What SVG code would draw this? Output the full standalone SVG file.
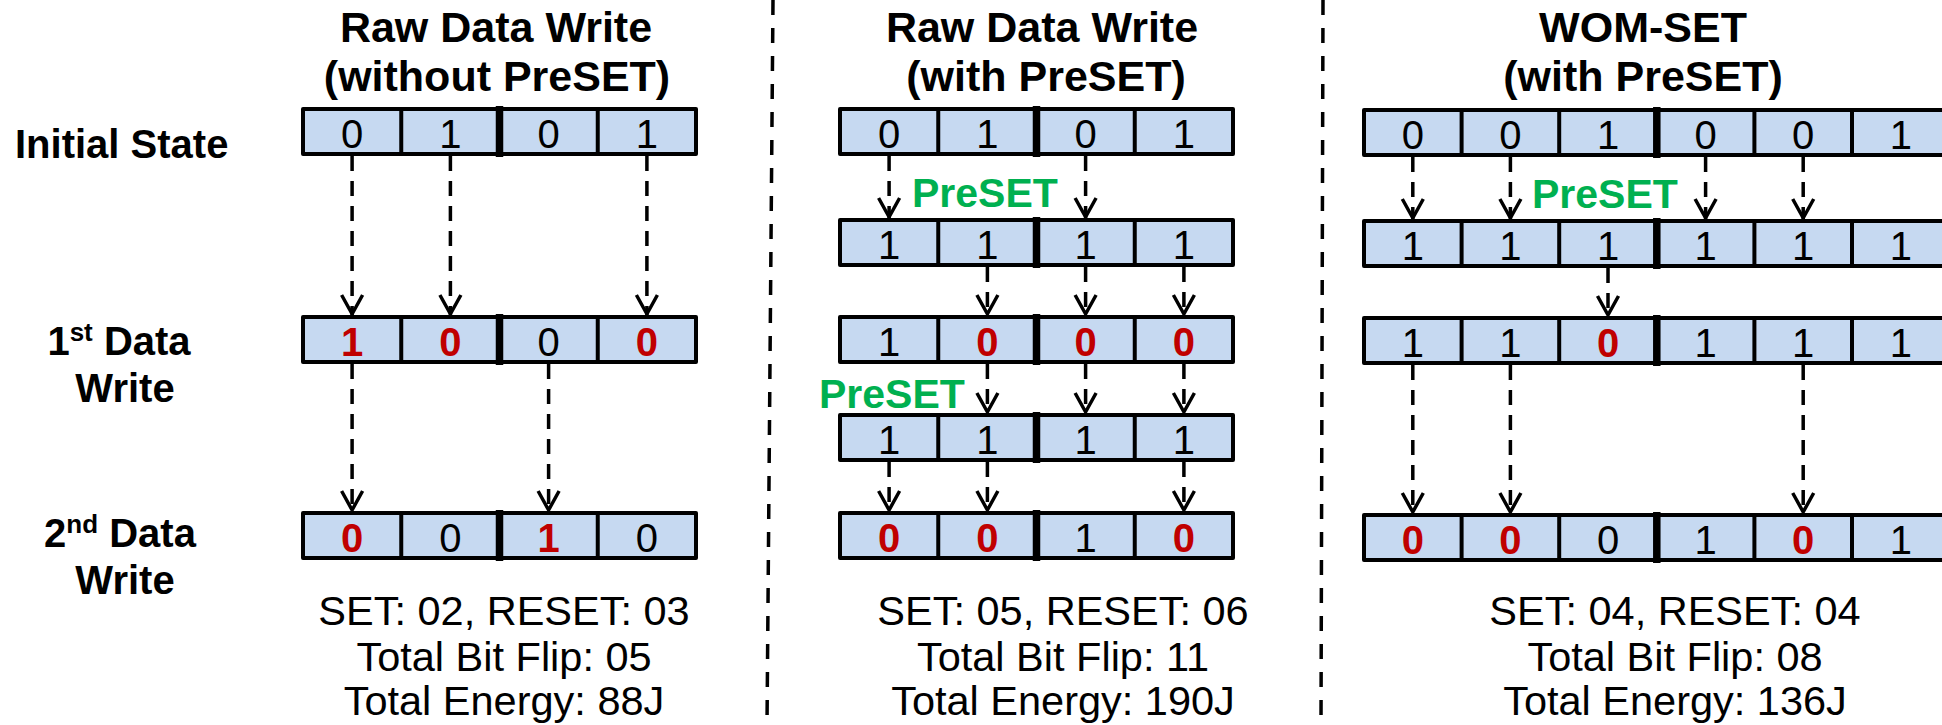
<svg xmlns="http://www.w3.org/2000/svg" width="1942" height="725" viewBox="0 0 1942 725">
  <defs>
    <style>
      .reg { fill: #C6D9F1; stroke: #000; stroke-width: 4; stroke-linejoin: round; }
      .sep { stroke: #000; stroke-width: 4; }
      .mid { stroke: #000; stroke-width: 7.5; }
      .bit { font-family: "Liberation Sans", Arial, sans-serif; font-size: 40px; text-anchor: middle; fill: #000; }
      .flip { fill: #C00000; font-weight: bold; }
      .title { font-family: "Liberation Sans", Arial, sans-serif; font-size: 43px; font-weight: bold; text-anchor: middle; fill: #000; }
      .label { font-family: "Liberation Sans", Arial, sans-serif; font-size: 40px; font-weight: bold; fill: #000; }
      .stat { font-family: "Liberation Sans", Arial, sans-serif; font-size: 41.5px; text-anchor: middle; fill: #000; }
      .preset { font-family: "Liberation Sans", Arial, sans-serif; font-size: 41px; font-weight: bold; fill: #00B050; }
      .conn { fill: none; stroke: #000; stroke-width: 3.5; stroke-dasharray: 15 10; marker-end: url(#arr); }
      .divider { stroke: #000; stroke-width: 3.5; stroke-dasharray: 15 13; }
    </style>
    <marker id="arr" markerUnits="userSpaceOnUse" viewBox="-22 -13 28 26" markerWidth="28" markerHeight="26" refX="3" refY="0" orient="auto">
      <path d="M -19 -10.5 L 0 0 L -19 10.5" fill="none" stroke="#000" stroke-width="3.5" stroke-dasharray="none"/>
    </marker>
  </defs>

  <rect width="1942" height="725" fill="#fff"/>

  <!-- panel separators -->
  <g id="separators">
    <line class="divider" x1="773" y1="0" x2="767" y2="725"/>
    <line class="divider" x1="1323" y1="0" x2="1321" y2="725"/>
  </g>

  <!-- row labels -->
  <g id="row-labels">
    <text class="label" x="15" y="158">Initial State</text>
    <text class="label" x="119" y="355" text-anchor="middle">1<tspan font-size="26" dy="-14">st</tspan><tspan dy="14"> Data</tspan></text>
    <text class="label" x="125" y="402" text-anchor="middle">Write</text>
    <text class="label" x="120" y="547" text-anchor="middle">2<tspan font-size="26" dy="-14">nd</tspan><tspan dy="14"> Data</tspan></text>
    <text class="label" x="125" y="594" text-anchor="middle">Write</text>
  </g>

  <!-- panel titles -->
  <g id="titles">
    <text class="title" x="496" y="42">Raw Data Write</text>
    <text class="title" x="497" y="91">(without PreSET)</text>
    <text class="title" x="1042" y="42">Raw Data Write</text>
    <text class="title" x="1046" y="91">(with PreSET)</text>
    <text class="title" x="1643" y="42">WOM-SET</text>
    <text class="title" x="1643" y="91">(with PreSET)</text>
  </g>

  <!-- panel 1: raw write without PreSET -->
  <g id="p1-initial">
    <rect class="reg" x="303" y="109" width="393" height="45"/>
    <line class="sep" x1="401.25" y1="109" x2="401.25" y2="154"/>
    <line class="sep" x1="597.75" y1="109" x2="597.75" y2="154"/>
    <line class="mid" x1="499.5" y1="106" x2="499.5" y2="157"/>
    <text class="bit" x="352.1" y="147.5">0</text>
    <text class="bit" x="450.4" y="147.5">1</text>
    <text class="bit" x="548.6" y="147.5">0</text>
    <text class="bit" x="646.9" y="147.5">1</text>
  </g>
  <g id="p1-write1">
    <rect class="reg" x="303" y="317" width="393" height="45"/>
    <line class="sep" x1="401.25" y1="317" x2="401.25" y2="362"/>
    <line class="sep" x1="597.75" y1="317" x2="597.75" y2="362"/>
    <line class="mid" x1="499.5" y1="314" x2="499.5" y2="365"/>
    <text class="bit flip" x="352.1" y="355.5">1</text>
    <text class="bit flip" x="450.4" y="355.5">0</text>
    <text class="bit" x="548.6" y="355.5">0</text>
    <text class="bit flip" x="646.9" y="355.5">0</text>
  </g>
  <g id="p1-write2">
    <rect class="reg" x="303" y="513" width="393" height="45"/>
    <line class="sep" x1="401.25" y1="513" x2="401.25" y2="558"/>
    <line class="sep" x1="597.75" y1="513" x2="597.75" y2="558"/>
    <line class="mid" x1="499.5" y1="510" x2="499.5" y2="561"/>
    <text class="bit flip" x="352.1" y="551.5">0</text>
    <text class="bit" x="450.4" y="551.5">0</text>
    <text class="bit flip" x="548.6" y="551.5">1</text>
    <text class="bit" x="646.9" y="551.5">0</text>
  </g>
  <g id="p1-stats">
    <text class="stat" x="504" y="625">SET: 02, RESET: 03</text>
    <text class="stat" x="504" y="671">Total Bit Flip: 05</text>
    <text class="stat" x="504" y="715">Total Energy: 88J</text>
  </g>

  <!-- panel 2: raw write with PreSET -->
  <g id="p2-initial">
    <rect class="reg" x="840" y="109" width="393" height="45"/>
    <line class="sep" x1="938.25" y1="109" x2="938.25" y2="154"/>
    <line class="sep" x1="1134.75" y1="109" x2="1134.75" y2="154"/>
    <line class="mid" x1="1036.5" y1="106" x2="1036.5" y2="157"/>
    <text class="bit" x="889.1" y="147.5">0</text>
    <text class="bit" x="987.4" y="147.5">1</text>
    <text class="bit" x="1085.6" y="147.5">0</text>
    <text class="bit" x="1183.9" y="147.5">1</text>
  </g>
  <g id="p2-preset1">
    <rect class="reg" x="840" y="220" width="393" height="45"/>
    <line class="sep" x1="938.25" y1="220" x2="938.25" y2="265"/>
    <line class="sep" x1="1134.75" y1="220" x2="1134.75" y2="265"/>
    <line class="mid" x1="1036.5" y1="217" x2="1036.5" y2="268"/>
    <text class="bit" x="889.1" y="258.5">1</text>
    <text class="bit" x="987.4" y="258.5">1</text>
    <text class="bit" x="1085.6" y="258.5">1</text>
    <text class="bit" x="1183.9" y="258.5">1</text>
  </g>
  <g id="p2-write1">
    <rect class="reg" x="840" y="317" width="393" height="45"/>
    <line class="sep" x1="938.25" y1="317" x2="938.25" y2="362"/>
    <line class="sep" x1="1134.75" y1="317" x2="1134.75" y2="362"/>
    <line class="mid" x1="1036.5" y1="314" x2="1036.5" y2="365"/>
    <text class="bit" x="889.1" y="355.5">1</text>
    <text class="bit flip" x="987.4" y="355.5">0</text>
    <text class="bit flip" x="1085.6" y="355.5">0</text>
    <text class="bit flip" x="1183.9" y="355.5">0</text>
  </g>
  <g id="p2-preset2">
    <rect class="reg" x="840" y="415" width="393" height="45"/>
    <line class="sep" x1="938.25" y1="415" x2="938.25" y2="460"/>
    <line class="sep" x1="1134.75" y1="415" x2="1134.75" y2="460"/>
    <line class="mid" x1="1036.5" y1="412" x2="1036.5" y2="463"/>
    <text class="bit" x="889.1" y="453.5">1</text>
    <text class="bit" x="987.4" y="453.5">1</text>
    <text class="bit" x="1085.6" y="453.5">1</text>
    <text class="bit" x="1183.9" y="453.5">1</text>
  </g>
  <g id="p2-write2">
    <rect class="reg" x="840" y="513" width="393" height="45"/>
    <line class="sep" x1="938.25" y1="513" x2="938.25" y2="558"/>
    <line class="sep" x1="1134.75" y1="513" x2="1134.75" y2="558"/>
    <line class="mid" x1="1036.5" y1="510" x2="1036.5" y2="561"/>
    <text class="bit flip" x="889.1" y="551.5">0</text>
    <text class="bit flip" x="987.4" y="551.5">0</text>
    <text class="bit" x="1085.6" y="551.5">1</text>
    <text class="bit flip" x="1183.9" y="551.5">0</text>
  </g>
  <g id="p2-labels">
    <text class="preset" x="912" y="207">PreSET</text>
    <text class="preset" x="819" y="408">PreSET</text>
  </g>
  <g id="p2-stats">
    <text class="stat" x="1063" y="625">SET: 05, RESET: 06</text>
    <text class="stat" x="1063" y="671">Total Bit Flip: 11</text>
    <text class="stat" x="1063" y="715">Total Energy: 190J</text>
  </g>

  <!-- panel 3: WOM-SET with PreSET (register runs past the right edge) -->
  <g id="p3-initial">
    <rect class="reg" x="1364" y="110" width="600" height="45"/>
    <line class="sep" x1="1461.6" y1="110" x2="1461.6" y2="155"/>
    <line class="sep" x1="1559.2" y1="110" x2="1559.2" y2="155"/>
    <line class="sep" x1="1754.4" y1="110" x2="1754.4" y2="155"/>
    <line class="sep" x1="1852" y1="110" x2="1852" y2="155"/>
    <line class="mid" x1="1656.8" y1="107" x2="1656.8" y2="158"/>
    <text class="bit" x="1412.8" y="148.5">0</text>
    <text class="bit" x="1510.4" y="148.5">0</text>
    <text class="bit" x="1608" y="148.5">1</text>
    <text class="bit" x="1705.6" y="148.5">0</text>
    <text class="bit" x="1803.2" y="148.5">0</text>
    <text class="bit" x="1900.8" y="148.5">1</text>
  </g>
  <g id="p3-preset">
    <rect class="reg" x="1364" y="221" width="600" height="45"/>
    <line class="sep" x1="1461.6" y1="221" x2="1461.6" y2="266"/>
    <line class="sep" x1="1559.2" y1="221" x2="1559.2" y2="266"/>
    <line class="sep" x1="1754.4" y1="221" x2="1754.4" y2="266"/>
    <line class="sep" x1="1852" y1="221" x2="1852" y2="266"/>
    <line class="mid" x1="1656.8" y1="218" x2="1656.8" y2="269"/>
    <text class="bit" x="1412.8" y="259.5">1</text>
    <text class="bit" x="1510.4" y="259.5">1</text>
    <text class="bit" x="1608" y="259.5">1</text>
    <text class="bit" x="1705.6" y="259.5">1</text>
    <text class="bit" x="1803.2" y="259.5">1</text>
    <text class="bit" x="1900.8" y="259.5">1</text>
  </g>
  <g id="p3-write1">
    <rect class="reg" x="1364" y="318" width="600" height="45"/>
    <line class="sep" x1="1461.6" y1="318" x2="1461.6" y2="363"/>
    <line class="sep" x1="1559.2" y1="318" x2="1559.2" y2="363"/>
    <line class="sep" x1="1754.4" y1="318" x2="1754.4" y2="363"/>
    <line class="sep" x1="1852" y1="318" x2="1852" y2="363"/>
    <line class="mid" x1="1656.8" y1="315" x2="1656.8" y2="366"/>
    <text class="bit" x="1412.8" y="356.5">1</text>
    <text class="bit" x="1510.4" y="356.5">1</text>
    <text class="bit flip" x="1608" y="356.5">0</text>
    <text class="bit" x="1705.6" y="356.5">1</text>
    <text class="bit" x="1803.2" y="356.5">1</text>
    <text class="bit" x="1900.8" y="356.5">1</text>
  </g>
  <g id="p3-write2">
    <rect class="reg" x="1364" y="515" width="600" height="45"/>
    <line class="sep" x1="1461.6" y1="515" x2="1461.6" y2="560"/>
    <line class="sep" x1="1559.2" y1="515" x2="1559.2" y2="560"/>
    <line class="sep" x1="1754.4" y1="515" x2="1754.4" y2="560"/>
    <line class="sep" x1="1852" y1="515" x2="1852" y2="560"/>
    <line class="mid" x1="1656.8" y1="512" x2="1656.8" y2="563"/>
    <text class="bit flip" x="1412.8" y="553.5">0</text>
    <text class="bit flip" x="1510.4" y="553.5">0</text>
    <text class="bit" x="1608" y="553.5">0</text>
    <text class="bit" x="1705.6" y="553.5">1</text>
    <text class="bit flip" x="1803.2" y="553.5">0</text>
    <text class="bit" x="1900.8" y="553.5">1</text>
  </g>
  <g id="p3-labels">
    <text class="preset" x="1532" y="208">PreSET</text>
  </g>
  <g id="p3-stats">
    <text class="stat" x="1675" y="625">SET: 04, RESET: 04</text>
    <text class="stat" x="1675" y="671">Total Bit Flip: 08</text>
    <text class="stat" x="1675" y="715">Total Energy: 136J</text>
  </g>

  <!-- bit transitions -->
  <g id="connectors">
    <line class="conn" x1="352.1" y1="156" x2="352.1" y2="317"/>
    <line class="conn" x1="450.4" y1="156" x2="450.4" y2="317"/>
    <line class="conn" x1="646.9" y1="156" x2="646.9" y2="317"/>
    <line class="conn" x1="352.1" y1="364" x2="352.1" y2="513"/>
    <line class="conn" x1="548.6" y1="364" x2="548.6" y2="513"/>

    <line class="conn" x1="889.1" y1="156" x2="889.1" y2="220"/>
    <line class="conn" x1="1085.6" y1="156" x2="1085.6" y2="220"/>
    <line class="conn" x1="987.4" y1="267" x2="987.4" y2="317"/>
    <line class="conn" x1="1085.6" y1="267" x2="1085.6" y2="317"/>
    <line class="conn" x1="1183.9" y1="267" x2="1183.9" y2="317"/>
    <line class="conn" x1="987.4" y1="364" x2="987.4" y2="415"/>
    <line class="conn" x1="1085.6" y1="364" x2="1085.6" y2="415"/>
    <line class="conn" x1="1183.9" y1="364" x2="1183.9" y2="415"/>
    <line class="conn" x1="889.1" y1="462" x2="889.1" y2="513"/>
    <line class="conn" x1="987.4" y1="462" x2="987.4" y2="513"/>
    <line class="conn" x1="1183.9" y1="462" x2="1183.9" y2="513"/>

    <line class="conn" x1="1412.8" y1="157" x2="1412.8" y2="221"/>
    <line class="conn" x1="1510.4" y1="157" x2="1510.4" y2="221"/>
    <line class="conn" x1="1705.6" y1="157" x2="1705.6" y2="221"/>
    <line class="conn" x1="1803.2" y1="157" x2="1803.2" y2="221"/>
    <line class="conn" x1="1608" y1="268" x2="1608" y2="318"/>
    <line class="conn" x1="1412.8" y1="365" x2="1412.8" y2="515"/>
    <line class="conn" x1="1510.4" y1="365" x2="1510.4" y2="515"/>
    <line class="conn" x1="1803.2" y1="365" x2="1803.2" y2="515"/>
  </g>
</svg>
